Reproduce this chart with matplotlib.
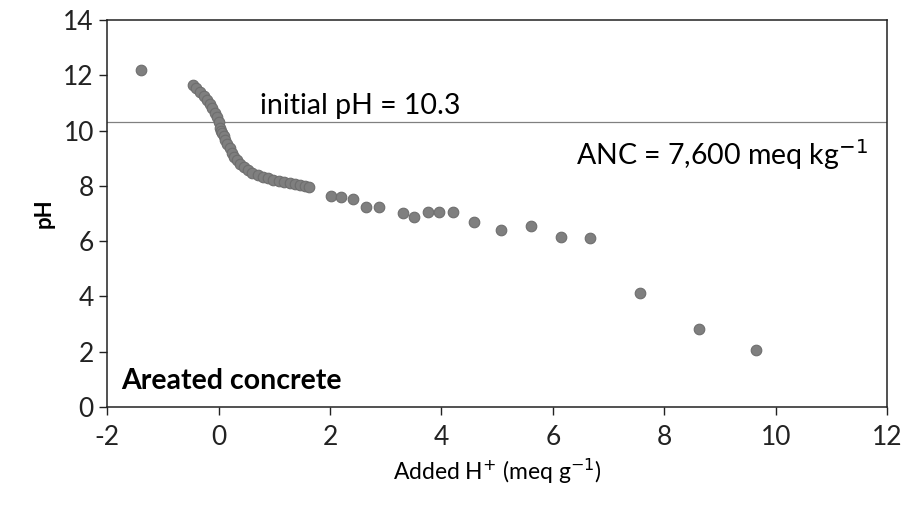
import matplotlib
matplotlib.use("Agg")
import matplotlib.pyplot as plt

plt.rcParams['font.family'] = ['Lato', 'DejaVu Sans']
plt.rcParams['axes.unicode_minus'] = False

# titration data: added H+ (meq/g) vs pH
added_h = [-1.40,
           -0.45, -0.40, -0.33, -0.27, -0.20, -0.15, -0.11, -0.06, -0.02, 0.01,
           0.03, 0.05, 0.07, 0.10, 0.12, 0.16, 0.20, 0.24, 0.27, 0.33,
           0.39, 0.45, 0.52, 0.60, 0.70, 0.80, 0.88, 0.98, 1.08, 1.18,
           1.29, 1.38, 1.47, 1.55, 1.62,
           2.01, 2.19, 2.41, 2.64, 2.88,
           3.31, 3.51, 3.76, 3.96, 4.21,
           4.59, 5.07, 5.61, 6.15, 6.66,
           7.56, 8.62, 9.64]
ph = [12.20,
      11.65, 11.55, 11.40, 11.25, 11.10, 10.95, 10.80, 10.65, 10.50, 10.30,
      10.10, 10.00, 9.90, 9.80, 9.66, 9.50, 9.37, 9.20, 9.05, 8.92,
      8.80, 8.68, 8.57, 8.48, 8.39, 8.33, 8.28, 8.22, 8.18, 8.14,
      8.10, 8.06, 8.03, 8.00, 7.96,
      7.65, 7.58, 7.54, 7.24, 7.24,
      7.00, 6.87, 7.04, 7.04, 7.04,
      6.70, 6.40, 6.55, 6.15, 6.10,
      4.12, 2.80, 2.06]

initial_ph = 10.3

fig = plt.figure(figsize=(9.08, 5.15), dpi=100)
ax = fig.add_axes([0.118, 0.21, 0.859, 0.751])

ax.scatter(added_h, ph, s=58, color='#7f7f7f', edgecolors='#6e6e6e',
           linewidths=0.8, zorder=3)
ax.axhline(initial_ph, color='#808080', linewidth=0.9, zorder=2)

ax.set_xlim(-2, 12)
ax.set_ylim(0, 14)
ax.set_xticks(range(-2, 13, 2))
ax.set_yticks(range(0, 15, 2))
ax.tick_params(direction='out', length=6, width=1, labelsize=19, colors='#222222')
ax.tick_params(axis='x', pad=7)
for sp in ax.spines.values():
    sp.set_color('#222222')
    sp.set_linewidth(1.1)

ax.set_xlabel('Added H$^{+}$ (meq g$^{-1}$)', fontsize=16.5, labelpad=5)
ax.set_ylabel('pH', fontsize=16, fontweight='bold', labelpad=6)

ax.text(0.75, 10.9, 'initial pH = 10.3', fontsize=20.5, va='center', ha='left')
ax.text(11.65, 9.15, 'ANC = 7,600 meq kg$^{-1}$', fontsize=20.5, va='center', ha='right')
ax.text(-1.75, 0.95, 'Areated concrete', fontsize=20.5, fontweight='bold',
        va='center', ha='left')

fig.savefig('out.png', dpi=100)
